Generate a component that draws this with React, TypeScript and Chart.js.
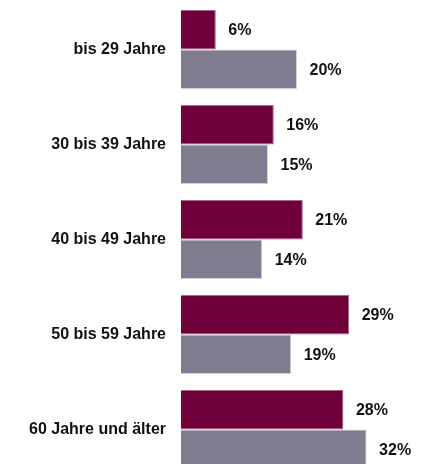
import React, { useEffect, useRef } from "react";
import { Chart, registerables } from "chart.js";

Chart.register(...registerables);

const categories = ["bis 29 Jahre", "30 bis 39 Jahre", "40 bis 49 Jahre", "50 bis 59 Jahre", "60 Jahre und älter"];
const seriesA = [6, 16, 21, 29, 28];
const seriesB = [20, 15, 14, 19, 32];

const FONT = '"Liberation Sans", Arial, Helvetica, sans-serif';

const valueLabels = {
  id: "valueLabels",
  afterDatasetsDraw(chart: any) {
    const ctx = chart.ctx;
    ctx.save();
    ctx.font = `bold 16px ${FONT}`;
    ctx.fillStyle = "#111111";
    ctx.textAlign = "left";
    ctx.textBaseline = "middle";
    chart.data.datasets.forEach((ds: any, di: number) => {
      const meta = chart.getDatasetMeta(di);
      meta.data.forEach((bar: any, i: number) => {
        ctx.fillText(`${ds.data[i]}%`, bar.x + 12.5, bar.y + 1);
      });
    });
    ctx.restore();
  },
};

export default function App() {
  const ref = useRef<HTMLCanvasElement>(null);
  useEffect(() => {
    if (!ref.current) return;
    const chart = new Chart(ref.current, {
      type: "bar",
      data: {
        labels: categories,
        datasets: [
          {
            data: seriesA,
            backgroundColor: "#6f0039",
            borderColor: "#a8688a",
            borderWidth: 1,
            categoryPercentage: 0.832,
            barPercentage: 1,
          },
          {
            data: seriesB,
            backgroundColor: "#7e7c8e",
            borderColor: "#cfcfd8",
            borderWidth: 1,
            categoryPercentage: 0.832,
            barPercentage: 1,
          },
        ],
      },
      options: {
        indexAxis: "y",
        animation: false,
        responsive: false,
        devicePixelRatio: 1,
        layout: { padding: { top: 2, right: 19, bottom: 0, left: 0 } },
        plugins: { legend: { display: false }, tooltip: { enabled: false } },
        scales: {
          x: { display: false, min: 0, max: 40 },
          y: {
            grid: { display: false, drawTicks: false },
            border: { display: false },
            ticks: {
              padding: 15,
              color: "#111111",
              font: { family: FONT, size: 16, weight: "bold" },
            },
            afterFit: (scale: any) => {
              scale.width = 181;
              scale.paddingTop = 0;
              scale.paddingBottom = 0;
            },
          },
        },
      },
      plugins: [valueLabels],
    });
    return () => chart.destroy();
  }, []);
  return (
    <div style={{ position: "fixed", top: 0, left: 0, width: 432, height: 464, overflow: "hidden", background: "#fff" }}>
      <canvas ref={ref} width={432} height={477} style={{ display: "block", width: 432, height: 477 }} />
    </div>
  );
}
